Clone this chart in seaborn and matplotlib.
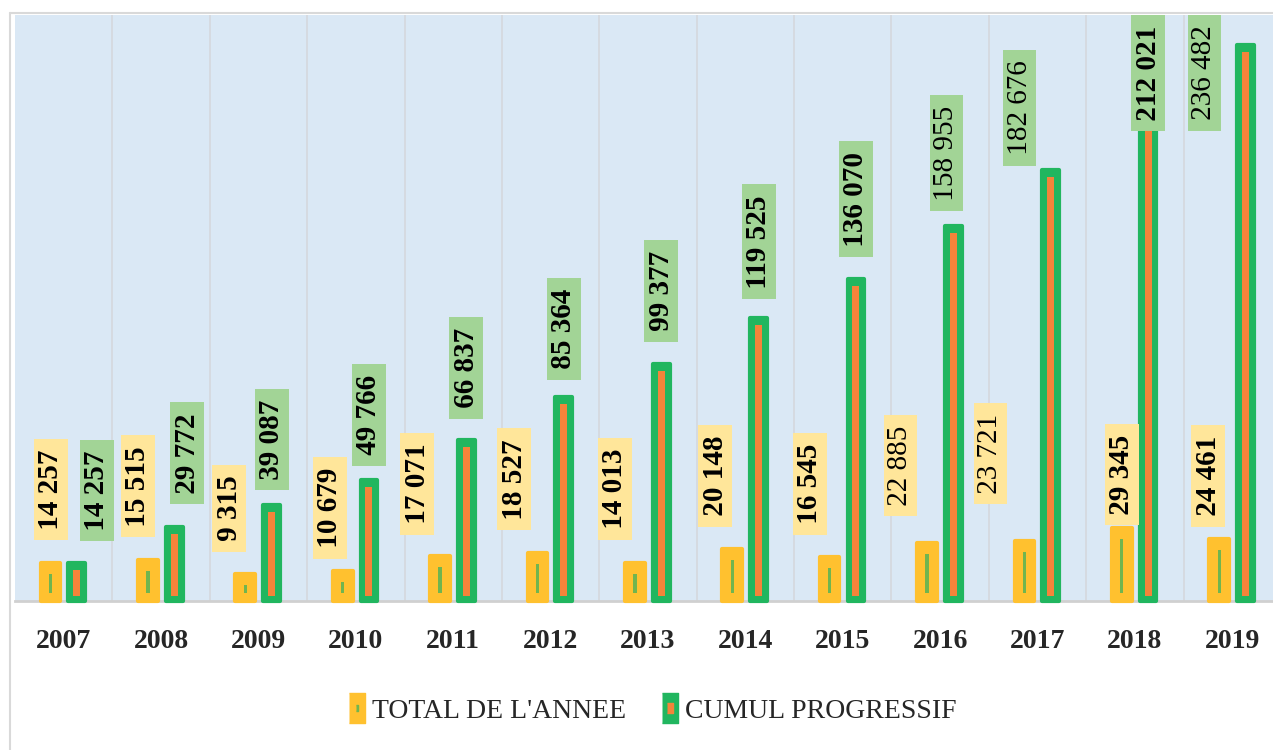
import numpy as np
import pandas as pd
import matplotlib
matplotlib.use("Agg")
import matplotlib.pyplot as plt
from matplotlib.lines import Line2D
from matplotlib.legend_handler import HandlerTuple
import seaborn as sns

# Data
years = ["2007", "2008", "2009", "2010", "2011", "2012", "2013",
         "2014", "2015", "2016", "2017", "2018", "2019"]
total_annee = [14257, 15515, 9315, 10679, 17071, 18527, 14013,
               20148, 16545, 22885, 23721, 29345, 24461]
cumul = [14257, 29772, 39087, 49766, 66837, 85364, 99377,
         119525, 136070, 158955, 182676, 212021, 236482]
series = ["TOTAL DE L'ANNEE", "CUMUL PROGRESSIF"]

df = pd.DataFrame({
    "Annee": years * 2,
    "Valeur": total_annee + cumul,
    "Serie": [series[0]] * len(years) + [series[1]] * len(years),
})

# label placement (pixels): sideways shift and gap above the bar, as placed in the original
ylab_dx = [0, -10, -16, -13, -23, -23, -20, -17, -20, -27, -34, 0, -11]
ylab_gap = [22, 22, 22, 12, 21, 22, 23, 22, 22, 26, 36, 2, 12]
glab_dx = [20, 13, 0, 0, 0, 0, 0, 0, 0, -7, -31, 0, -41]
glab_gap = [21, 22, 14, 14, 21, 17, 22, 18, 21, 14, 4, None, None]
ylab_bold = [True] * 9 + [False, False, True, True]
glab_bold = [True] * 9 + [False, False, True, False]

yellow = "#FFC12F"
green = "#21B65F"
orange = "#F4843A"
inner_green = "#70B54F"
lab_yellow = "#FFE69A"
lab_green = "#A2D496"

sns.set_style("white")
plt.rcParams["font.family"] = ["Liberation Serif", "DejaVu Serif"]

fig = plt.figure(figsize=(12.73, 7.5), dpi=100)
ax = fig.add_axes([15 / 1273, 1 - 601 / 750, 1266 / 1273, (601 - 15) / 750])
ax.set_facecolor("#DAE8F5")

sns.barplot(data=df, x="Annee", y="Valeur", hue="Serie", order=years,
            hue_order=series, palette=[yellow, green], saturation=1,
            width=0.54, gap=0.25, legend=False, ax=ax)

ymax = 251500
ax.set_ylim(0, ymax)
ax.set_xlim(-0.5, len(years) - 0.5)
px = ymax / 586.0  # data units per pixel
pt = 0.72          # points per pixel
cap = 5 * px       # rounded cap drawn above the value, as in the original

yb = ax.containers[0]
gb = ax.containers[1]
for cont, col in zip([yb, gb], [yellow, green]):
    for p in cont:
        p.set_edgecolor(col)
        p.set_linewidth(3)
        p.set_joinstyle("round")
        p.set_clip_on(False)
        p.set_zorder(3)
        p.set_height(p.get_height() + cap)
for p in gb:
    p.set_x(p.get_x() + 0.015)
    p.set_width(p.get_width() - 0.03)

# inner stripes
for p, v in zip(yb, total_annee):
    cx = p.get_x() + p.get_width() / 2
    h = max(v - 14 * px, 3 * px)
    ax.bar(cx, h, bottom=8 * px, width=0.034, color=inner_green,
           linewidth=0, zorder=4)
for p, v in zip(gb, cumul):
    cx = p.get_x() + p.get_width() / 2
    ax.bar(cx, v - 7 * px, bottom=5 * px, width=0.072, color=orange,
           linewidth=0, zorder=4)


def fmt(v):
    return " " + f"{v:,}".replace(",", " ") + " "


def add_label(cx, v, dx, gap, fc, bold):
    kw = dict(fontsize=21, fontweight="bold" if bold else "normal",
              color="black", rotation=90, ha="center", zorder=6,
              textcoords="offset points",
              bbox=dict(boxstyle="square,pad=0.12", fc=fc, ec="none"))
    if gap is None:
        ax.annotate(fmt(v), (cx, ymax), xytext=(dx * pt, -2.5), va="top", **kw)
    else:
        ax.annotate(fmt(v), (cx, v + cap), xytext=(dx * pt, (gap + 4) * pt),
                    va="bottom", **kw)


for i, (p, v) in enumerate(zip(yb, total_annee)):
    cx = p.get_x() + p.get_width() / 2
    add_label(cx, v, ylab_dx[i], ylab_gap[i], lab_yellow, ylab_bold[i])
for i, (p, v) in enumerate(zip(gb, cumul)):
    cx = p.get_x() + p.get_width() / 2
    add_label(cx, v, glab_dx[i], glab_gap[i], lab_green, glab_bold[i])

# vertical gridlines between categories
for i in range(len(years)):
    ax.axvline(i + 0.5, color="#D4D8DE", lw=1.2, zorder=1)

ax.set_yticks([])
ax.set_xlabel("")
ax.set_ylabel("")
ax.tick_params(axis="x", length=0, pad=20, labelsize=20)
for t in ax.get_xticklabels():
    t.set_fontweight("bold")
for s in ["top", "right", "left"]:
    ax.spines[s].set_visible(False)
ax.spines["bottom"].set_color("#D0D0D0")
ax.spines["bottom"].set_linewidth(2)

# outer chart border
fig.add_artist(Line2D([10 / 1273, 10 / 1273], [0, 1 - 13 / 750],
                      transform=fig.transFigure, color="#D9D9D9", lw=1.5))
fig.add_artist(Line2D([10 / 1273, 1], [1 - 13 / 750, 1 - 13 / 750],
                      transform=fig.transFigure, color="#D9D9D9", lw=1.5))

# legend
tall = [(-0.55, -1), (0.55, -1), (0.55, 1), (-0.55, 1)]
h1 = (Line2D([], [], marker=tall, ms=22, color=yellow, ls=""),
      Line2D([], [], marker=[(-0.35, -1), (0.35, -1), (0.35, 1), (-0.35, 1)],
             ms=4, color=inner_green, ls=""))
h2 = (Line2D([], [], marker=tall, ms=22, color=green, ls=""),
      Line2D([], [], marker=[(-0.5, -1), (0.5, -1), (0.5, 1), (-0.5, 1)],
             ms=7.5, color=orange, ls=""))
fig.legend([h1, h2], series, handler_map={tuple: HandlerTuple(ndivide=1)},
           loc="center", bbox_to_anchor=(0.511, 1 - 711 / 750), ncol=2,
           frameon=False, fontsize=20, handlelength=0.9, handletextpad=0.1,
           columnspacing=1.1)

fig.savefig("out.png", dpi=100, facecolor="white")
